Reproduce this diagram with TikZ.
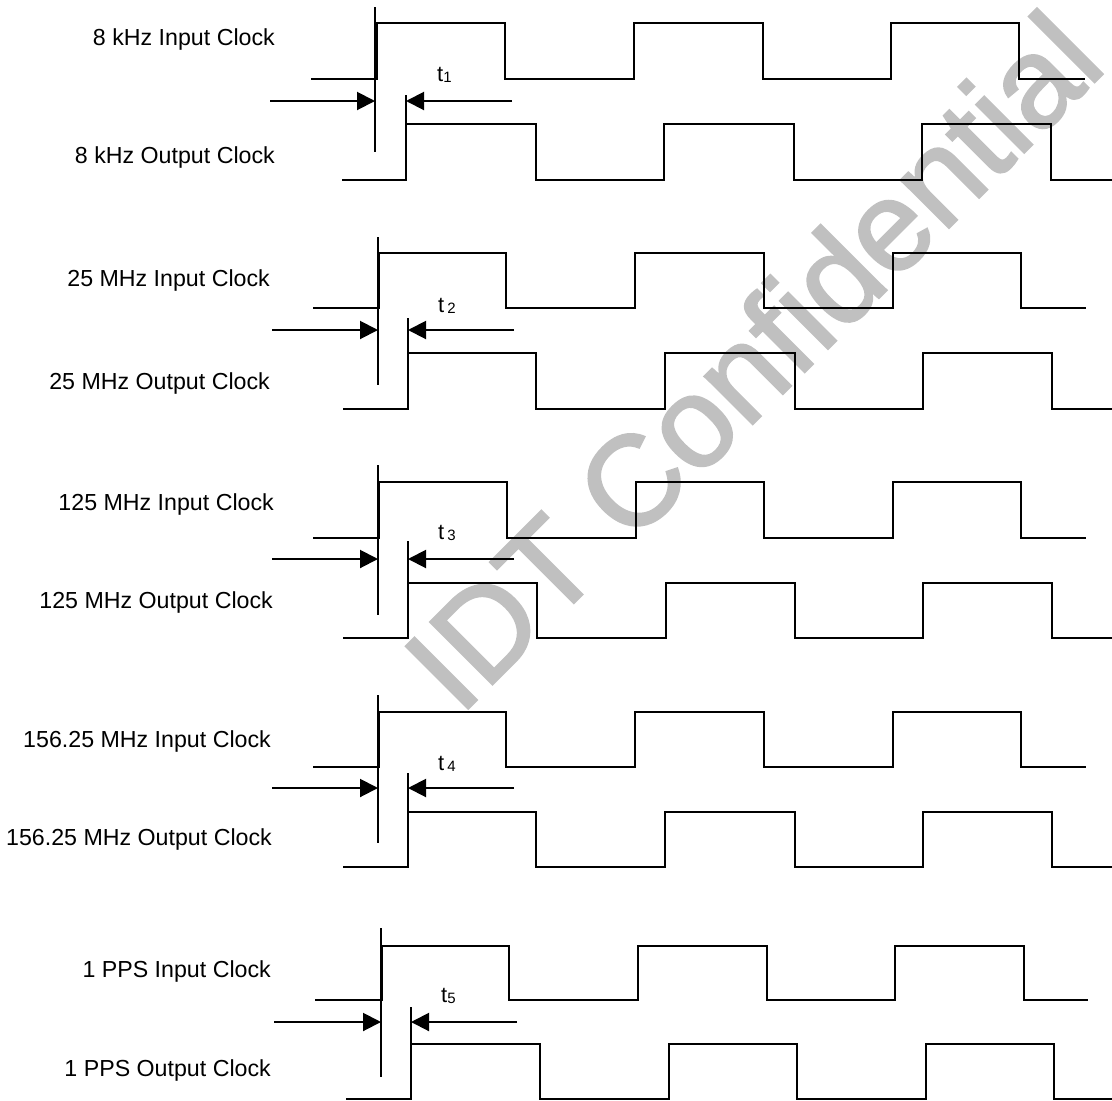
\documentclass[tikz,border=0pt]{standalone}
\usepackage{fontspec}
\setmainfont{Liberation Sans}
\newfontfamily\wmfont{Liberation Sans}[FakeBold=1.8]
\usetikzlibrary{arrows.meta}
\definecolor{wmgray}{RGB}{192,192,192}
\begin{document}
\begin{tikzpicture}[x=1pt,y=-1pt,
  sig/.style={line width=2pt, line join=miter},
  arr/.style={line width=2pt, -{Triangle[length=18pt,width=18pt]}},
  lbl/.style={anchor=base east, inner sep=0pt, font=\fontsize{23.2}{27}\selectfont},
  tlbl/.style={anchor=base west, inner sep=0pt, font=\fontsize{22}{26}\selectfont},
  wmark/.style={inner sep=0pt, rotate=45, text=wmgray, font=\wmfont\fontsize{128}{128}\selectfont}]
\useasboundingbox (0,0) rectangle (1112,1101);
\newcommand{\sub}[1]{\raisebox{-1pt}{\fontsize{15}{15}\selectfont #1}}

% watermark (behind)
\node[wmark] (wm) at (752,360) {IDT Confidential};

% ---------- Group 1 : 8 kHz ----------
\node[lbl] (in1) at (275,45) {8 kHz Input Clock};
\node[lbl] (out1) at (275,163) {8 kHz Output Clock};
\draw[sig] (311,79) -- (377,79) -- (377,23) -- (505,23) -- (505,79) -- (634,79) -- (634,23) -- (763,23) -- (763,79) -- (891,79) -- (891,23) -- (1019,23) -- (1019,79) -- (1085,79);
\draw[sig] (342,180) -- (406,180) -- (406,124) -- (536,124) -- (536,180) -- (664,180) -- (664,124) -- (794,124) -- (794,180) -- (922,180) -- (922,124) -- (1051,124) -- (1051,180) -- (1112,180);
\coordinate (m1a) at (375,7); \coordinate (m1b) at (375,152);
\coordinate (o1a) at (406,95); \coordinate (o1b) at (406,180);
\draw[sig] (m1a) -- (m1b);
\draw[sig] (o1a) -- (o1b);
\coordinate (la1) at (270,101); \coordinate (lt1) at (375,101);
\coordinate (ra1) at (512,101); \coordinate (rt1) at (406,101);
\draw[arr] (la1) -- (lt1);
\draw[arr] (ra1) -- (rt1);
\node[tlbl] (t1) at (437,81) {t\sub{1}};

% ---------- Group 2 : 25 MHz ----------
\node[lbl] (in2) at (270,286) {25 MHz Input Clock};
\node[lbl] (out2) at (270,389) {25 MHz Output Clock};
\draw[sig] (313,308) -- (379,308) -- (379,253) -- (506,253) -- (506,308) -- (635,308) -- (635,253) -- (764,253) -- (764,308) -- (893,308) -- (893,253) -- (1021,253) -- (1021,308) -- (1086,308);
\draw[sig] (343,409) -- (408,409) -- (408,353) -- (536,353) -- (536,409) -- (665,409) -- (665,353) -- (795,353) -- (795,409) -- (923,409) -- (923,353) -- (1052,353) -- (1052,409) -- (1112,409);
\coordinate (m2a) at (378,237); \coordinate (m2b) at (378,385);
\coordinate (o2a) at (408,318); \coordinate (o2b) at (408,409);
\draw[sig] (m2a) -- (m2b);
\draw[sig] (o2a) -- (o2b);
\coordinate (la2) at (272,330); \coordinate (lt2) at (378,330);
\coordinate (ra2) at (514,330); \coordinate (rt2) at (408,330);
\draw[arr] (la2) -- (lt2);
\draw[arr] (ra2) -- (rt2);
\node[tlbl] (t2) at (438,312) {t\hspace{3pt}\sub{2}};

% ---------- Group 3 : 125 MHz ----------
\node[lbl] (in3) at (274,510) {125 MHz Input Clock};
\node[lbl] (out3) at (273,608) {125 MHz Output Clock};
\draw[sig] (313,538) -- (379,538) -- (379,482) -- (507,482) -- (507,538) -- (636,538) -- (636,482) -- (764,482) -- (764,538) -- (893,538) -- (893,482) -- (1021,482) -- (1021,538) -- (1086,538);
\draw[sig] (343,638) -- (408,638) -- (408,583) -- (537,583) -- (537,638) -- (666,638) -- (666,583) -- (795,583) -- (795,638) -- (923,638) -- (923,583) -- (1052,583) -- (1052,638) -- (1112,638);
\coordinate (m3a) at (378,465); \coordinate (m3b) at (378,615);
\coordinate (o3a) at (408,541); \coordinate (o3b) at (408,638);
\draw[sig] (m3a) -- (m3b);
\draw[sig] (o3a) -- (o3b);
\coordinate (la3) at (272,559); \coordinate (lt3) at (378,559);
\coordinate (ra3) at (514,559); \coordinate (rt3) at (408,559);
\draw[arr] (la3) -- (lt3);
\draw[arr] (ra3) -- (rt3);
\node[tlbl] (t3) at (438,539) {t\hspace{3pt}\sub{3}};

% ---------- Group 4 : 156.25 MHz ----------
\node[lbl] (in4) at (271,747) {156.25 MHz Input Clock};
\node[lbl] (out4) at (272,845) {156.25 MHz Output Clock};
\draw[sig] (313,767) -- (379,767) -- (379,712) -- (506,712) -- (506,767) -- (635,767) -- (635,712) -- (764,712) -- (764,767) -- (893,767) -- (893,712) -- (1021,712) -- (1021,767) -- (1086,767);
\draw[sig] (343,867) -- (408,867) -- (408,812) -- (536,812) -- (536,867) -- (665,867) -- (665,812) -- (795,812) -- (795,867) -- (923,867) -- (923,812) -- (1052,812) -- (1052,867) -- (1112,867);
\coordinate (m4a) at (378,695); \coordinate (m4b) at (378,843);
\coordinate (o4a) at (408,773); \coordinate (o4b) at (408,867);
\draw[sig] (m4a) -- (m4b);
\draw[sig] (o4a) -- (o4b);
\coordinate (la4) at (272,788); \coordinate (lt4) at (378,788);
\coordinate (ra4) at (514,788); \coordinate (rt4) at (408,788);
\draw[arr] (la4) -- (lt4);
\draw[arr] (ra4) -- (rt4);
\node[tlbl] (t4) at (438,770) {t\hspace{3pt}\sub{4}};

% ---------- Group 5 : 1 PPS ----------
\node[lbl] (in5) at (271,977) {1 PPS Input Clock};
\node[lbl] (out5) at (271,1076) {1 PPS Output Clock};
\draw[sig] (315,1000) -- (382,1000) -- (382,946) -- (509,946) -- (509,1000) -- (638,1000) -- (638,946) -- (767,946) -- (767,1000) -- (895,1000) -- (895,946) -- (1024,946) -- (1024,1000) -- (1088,1000);
\draw[sig] (346,1099) -- (411,1099) -- (411,1044) -- (540,1044) -- (540,1099) -- (669,1099) -- (669,1044) -- (797,1044) -- (797,1099) -- (926,1099) -- (926,1044) -- (1054,1044) -- (1054,1099) -- (1112,1099);
\coordinate (m5a) at (381,928); \coordinate (m5b) at (381,1077);
\coordinate (o5a) at (411,1007); \coordinate (o5b) at (411,1099);
\draw[sig] (m5a) -- (m5b);
\draw[sig] (o5a) -- (o5b);
\coordinate (la5) at (274,1022); \coordinate (lt5) at (381,1022);
\coordinate (ra5) at (517,1022); \coordinate (rt5) at (411,1022);
\draw[arr] (la5) -- (lt5);
\draw[arr] (ra5) -- (rt5);
\node[tlbl] (t5) at (441,1002) {t\sub{5}};
\end{tikzpicture}
\end{document}
